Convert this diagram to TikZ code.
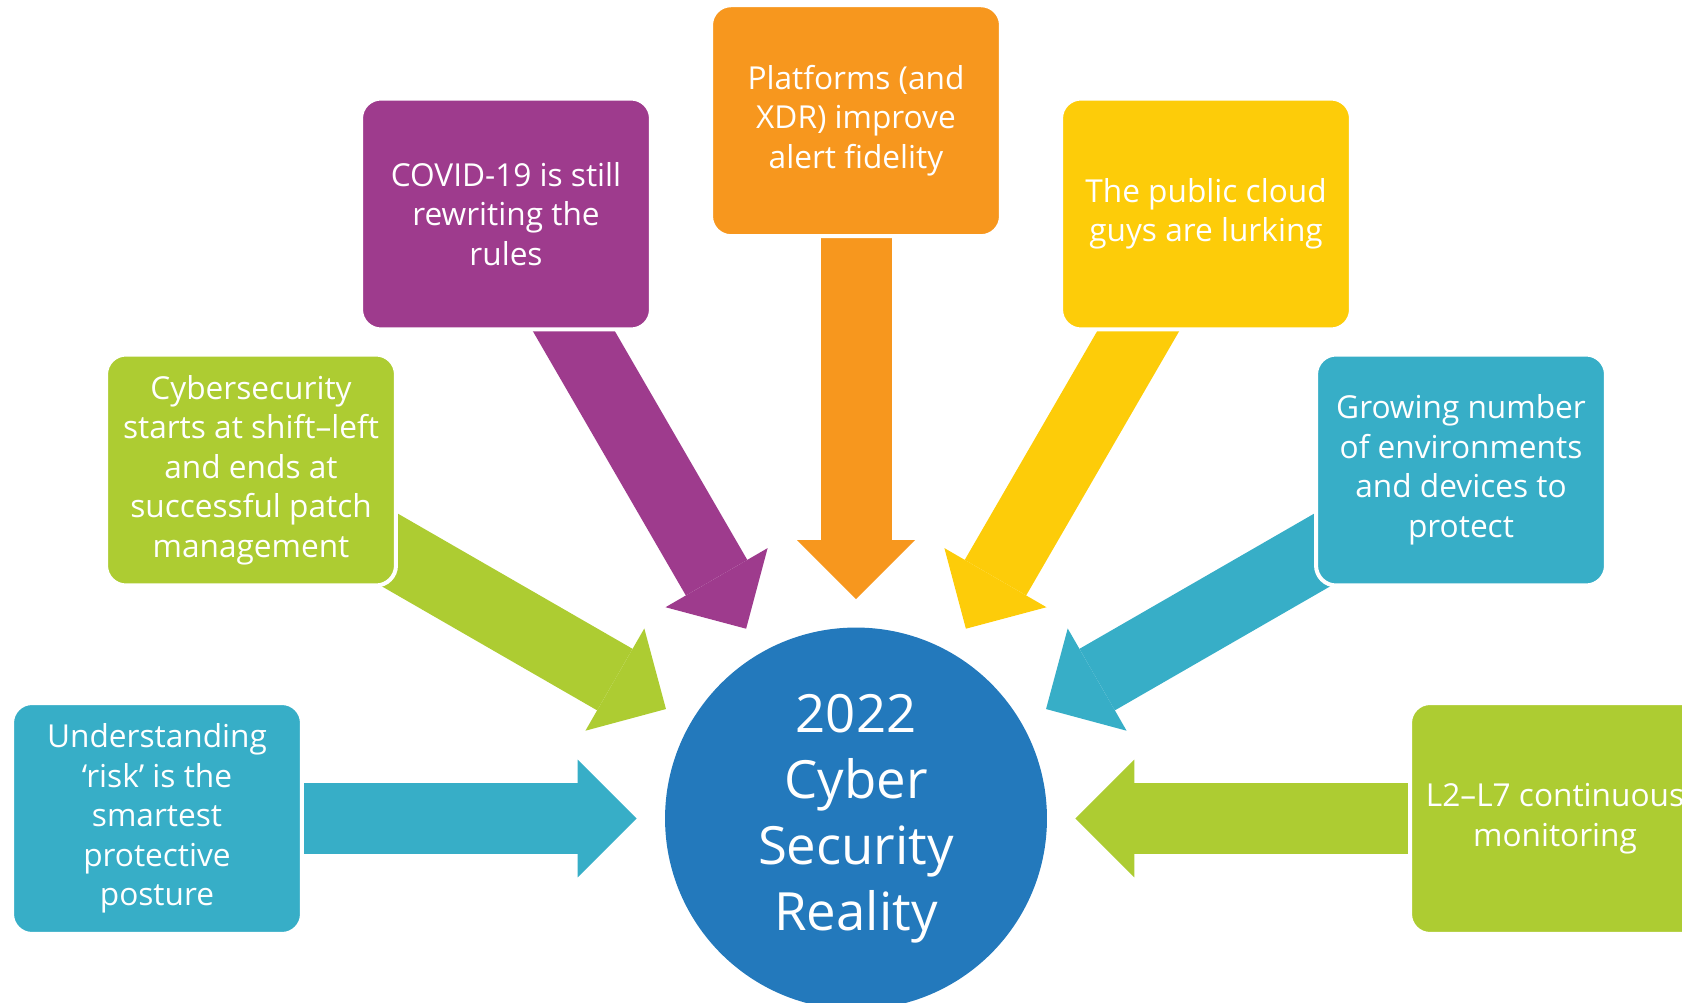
\documentclass[tikz,border=0pt]{standalone}
\usepackage{fontspec}
\setmainfont{Open Sans}
\usetikzlibrary{arrows.meta, backgrounds}
\definecolor{tealA}{RGB}{55,174,199}
\definecolor{greenA}{RGB}{173,204,50}
\definecolor{purpleA}{RGB}{158,59,141}
\definecolor{orangeA}{RGB}{247,151,30}
\definecolor{yellowA}{RGB}{253,204,9}
\definecolor{blueA}{RGB}{35,121,188}

\begin{document}
\begin{tikzpicture}[x=0.02cm, y=-0.02cm,
    box/.style={rectangle, rounded corners=0.4cm, draw=white, line width=0.08cm, minimum width=5.8cm, minimum height=4.62cm, text=white, align=center, font=\fontsize{18}{22.5}\selectfont},
    bigarrow/.style={draw=#1, line width=1.42cm, -{Triangle[length=1.18cm, width=2.36cm, line width=0pt]}, shorten >=0.56cm}]
    \useasboundingbox (0,0) rectangle (1682,1003);
    \clip (0,0) rectangle (1682,1003);
    \node[circle, fill=blueA, minimum size=7.64cm, inner sep=0pt, text=white, align=center, font=\fontsize{30}{37.6}\selectfont] (core) at (856,818.5) {2022\\Cyber\\Security\\Reality}; % centre
    \node[box, fill=tealA] (risk) at (157,818.5) {Understanding\\‘risk’ is the\\smartest\\protective\\posture};
    \node[box, fill=greenA] (shift) at (251,470) {Cybersecurity\\starts at shift–left\\and ends at\\successful patch\\management};
    \node[box, fill=purpleA] (covid) at (506,214) {COVID-19 is still\\rewriting the\\rules};
    \node[box, fill=orangeA] (xdr) at (856,120.7) {Platforms (and\\XDR) improve\\alert fidelity};
    \node[box, fill=yellowA] (cloud) at (1206,214) {The public cloud\\guys are lurking};
    \node[box, fill=tealA] (envs) at (1461,470) {Growing number\\of environments\\and devices to\\protect};
    \node[box, fill=greenA] (mon) at (1555,818.5) {L2–L7 continuous\\monitoring};
    % Flechas hacia el centro
    \begin{scope}[on background layer]
    \draw[bigarrow=tealA] (risk.center) -- (core);
    \draw[bigarrow=greenA] (shift.center) -- (core);
    \draw[bigarrow=purpleA] (covid.center) -- (core);
    \draw[bigarrow=orangeA] (xdr.center) -- (core);
    \draw[bigarrow=yellowA] (cloud.center) -- (core);
    \draw[bigarrow=tealA] (envs.center) -- (core);
    \draw[bigarrow=greenA] (mon.center) -- (core);
    \end{scope}
\end{tikzpicture}
\end{document}
